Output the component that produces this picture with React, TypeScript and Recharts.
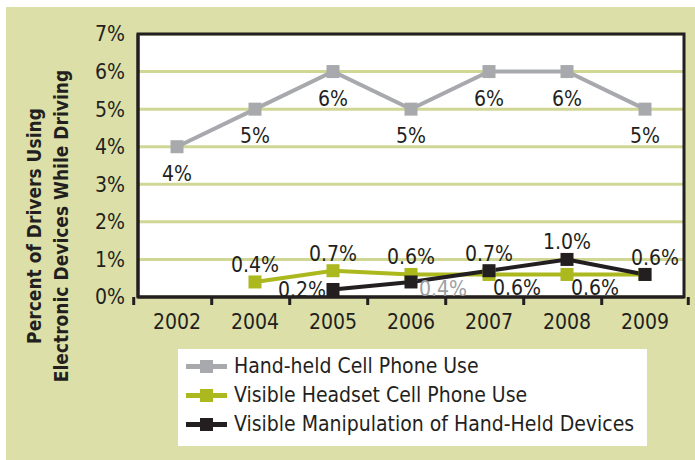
import React from "react";
import {
    LineChart,
    Line,
    XAxis,
    YAxis,
    CartesianGrid,
    ReferenceArea,
    LabelList,
    Label
} from "recharts";

const years = ["2002", "2004", "2005", "2006", "2007", "2008", "2009"];
const handHeld = [4, 5, 6, 5, 6, 6, 5];
const headset = [null, 0.4, 0.7, 0.6, 0.6, 0.6, 0.6];
const manipulation = [null, null, 0.2, 0.4, 0.7, 1.0, 0.6];
const yTicks = [0, 1, 2, 3, 4, 5, 6, 7];

// where each point's value label sits (null = no label)
const handHeldLabels = ["below", "below", "below", "below", "below", "below", "below"];
const headsetLabels = [null, "above", "above", "above", "belowRight", "belowRight", null];
const manipulationLabels = [null, null, "left", "belowRightGray", "above", "above", "aboveRight"];

const FONT = '"Liberation Sans Narrow", "DejaVu Sans Condensed", "Liberation Sans", sans-serif';
const TEXT = "#231f20";
const W = 695;
const H = 460;
const MARGIN = { top: 34, right: 11, left: 78, bottom: 133 };
const BAND = (W - MARGIN.left - MARGIN.right) / years.length;

const labelOffsets: Record<string, [number, number]> = {
    below: [0, 26],
    above: [0, -18],
    belowRight: [28, 13],
    left: [-31, 0],
    belowRightGray: [32, 6],
    aboveRight: [10, -17]
};

const data = years.map((year, i) => ({
    year,
    handHeld: handHeld[i],
    headset: headset[i],
    manipulation: manipulation[i]
}));

const series = [
    { key: "handHeld", name: "Hand-held Cell Phone Use", color: "#a7a9ac", labels: handHeldLabels, digits: 0 },
    { key: "headset", name: "Visible Headset Cell Phone Use", color: "#abb81e", labels: headsetLabels, digits: 1 },
    { key: "manipulation", name: "Visible Manipulation of Hand-Held Devices", color: "#231f20", labels: manipulationLabels, digits: 1 }
];

function squareDot(color: string) {
    return (props: any) => {
        const { cx, cy, index } = props;
        if (cx == null || cy == null) return <g key={index} />;
        return <rect key={index} x={cx - 6.5} y={cy - 6.5} width={13} height={13} fill={color} />;
    };
}

function valueLabel(placements: (string | null)[], digits: number) {
    return (props: any) => {
        const { x, y, value, index } = props;
        const place = placements[index];
        if (value == null || !place) return null;
        const [dx, dy] = labelOffsets[place];
        return (
            <text
                x={x + dx}
                y={y + dy + 8}
                textAnchor="middle"
                fontFamily={FONT}
                fontSize={21}
                fill={place === "belowRightGray" ? "#9d9fa2" : TEXT}
            >
                {Number(value).toFixed(digits) + "%"}
            </text>
        );
    };
}

function XTick(props: any) {
    const { x, y, payload, index } = props;
    const half = BAND / 2;
    return (
        <g>
            <line x1={x - half} x2={x - half} y1={y} y2={y + 8} stroke={TEXT} strokeWidth={3} />
            {index === years.length - 1 && (
                <line x1={x + half} x2={x + half} y1={y} y2={y + 8} stroke={TEXT} strokeWidth={3} />
            )}
            <text x={x} y={y + 32} textAnchor="middle" fontFamily={FONT} fontSize={21} fill={TEXT}>
                {payload.value}
            </text>
        </g>
    );
}

function YTitle() {
    return (
        <g fontFamily={FONT} fontSize={19} fontWeight="bold" fill={TEXT} textAnchor="middle">
            <text transform="translate(41,226) rotate(-90)">Percent of Drivers Using</text>
            <text transform="translate(68,226) rotate(-90)">Electronic Devices While Driving</text>
        </g>
    );
}

export default function App() {
    return (
        <div style={{ position: "relative", width: W, height: H, background: "#fff", overflow: "hidden" }}>
            <style>{"body{margin:0}"}</style>
            <div style={{ position: "absolute", left: 6, top: 7, right: 0, bottom: 0, background: "#dcdfa7" }} />
            <div style={{ position: "absolute", left: 0, top: 0 }}>
                <LineChart width={W} height={H} data={data} margin={MARGIN}>
                    <CartesianGrid vertical={false} stroke="#d0d794" strokeWidth={3} fill="#fff" />
                    <XAxis
                        dataKey="year"
                        scale="band"
                        height={30}
                        axisLine={{ stroke: TEXT, strokeWidth: 3 }}
                        tickLine={false}
                        tickSize={0}
                        tickMargin={0}
                        interval={0}
                        tick={<XTick />}
                    />
                    <YAxis
                        domain={[0, 7]}
                        ticks={yTicks}
                        width={60}
                        axisLine={{ stroke: TEXT, strokeWidth: 3 }}
                        tickLine={false}
                        tickMargin={7}
                        tickFormatter={(v) => v + "%"}
                        tick={{ fill: TEXT, fontSize: 21, fontFamily: FONT }}
                    >
                        <Label content={<YTitle />} />
                    </YAxis>
                    <ReferenceArea y1={0} y2={7} fill="none" stroke={TEXT} strokeWidth={3} fillOpacity={0} />
                    {series.map((s) => (
                        <Line
                            key={s.key}
                            dataKey={s.key}
                            name={s.name}
                            stroke={s.color}
                            strokeWidth={4}
                            dot={squareDot(s.color)}
                            activeDot={false}
                            isAnimationActive={false}
                        >
                            <LabelList dataKey={s.key} content={valueLabel(s.labels, s.digits)} />
                        </Line>
                    ))}
                </LineChart>
            </div>
            <div
                style={{
                    position: "absolute",
                    left: 178,
                    top: 349,
                    width: 469,
                    height: 97,
                    background: "#fff",
                    fontFamily: FONT,
                    fontSize: 21,
                    color: TEXT
                }}
            >
                {series.map((s, i) => (
                    <div
                        key={s.key}
                        style={{ position: "absolute", left: 8, top: 4 + i * 29, height: 26, display: "flex", alignItems: "center" }}
                    >
                        <div style={{ position: "relative", width: 41, height: 26, marginRight: 7 }}>
                            <div style={{ position: "absolute", left: 0, top: 11, width: 41, height: 5, background: s.color }} />
                            <div style={{ position: "absolute", left: 14, top: 7, width: 13, height: 13, background: s.color }} />
                        </div>
                        <span style={{ whiteSpace: "nowrap" }}>{s.name}</span>
                    </div>
                ))}
            </div>
        </div>
    );
}
